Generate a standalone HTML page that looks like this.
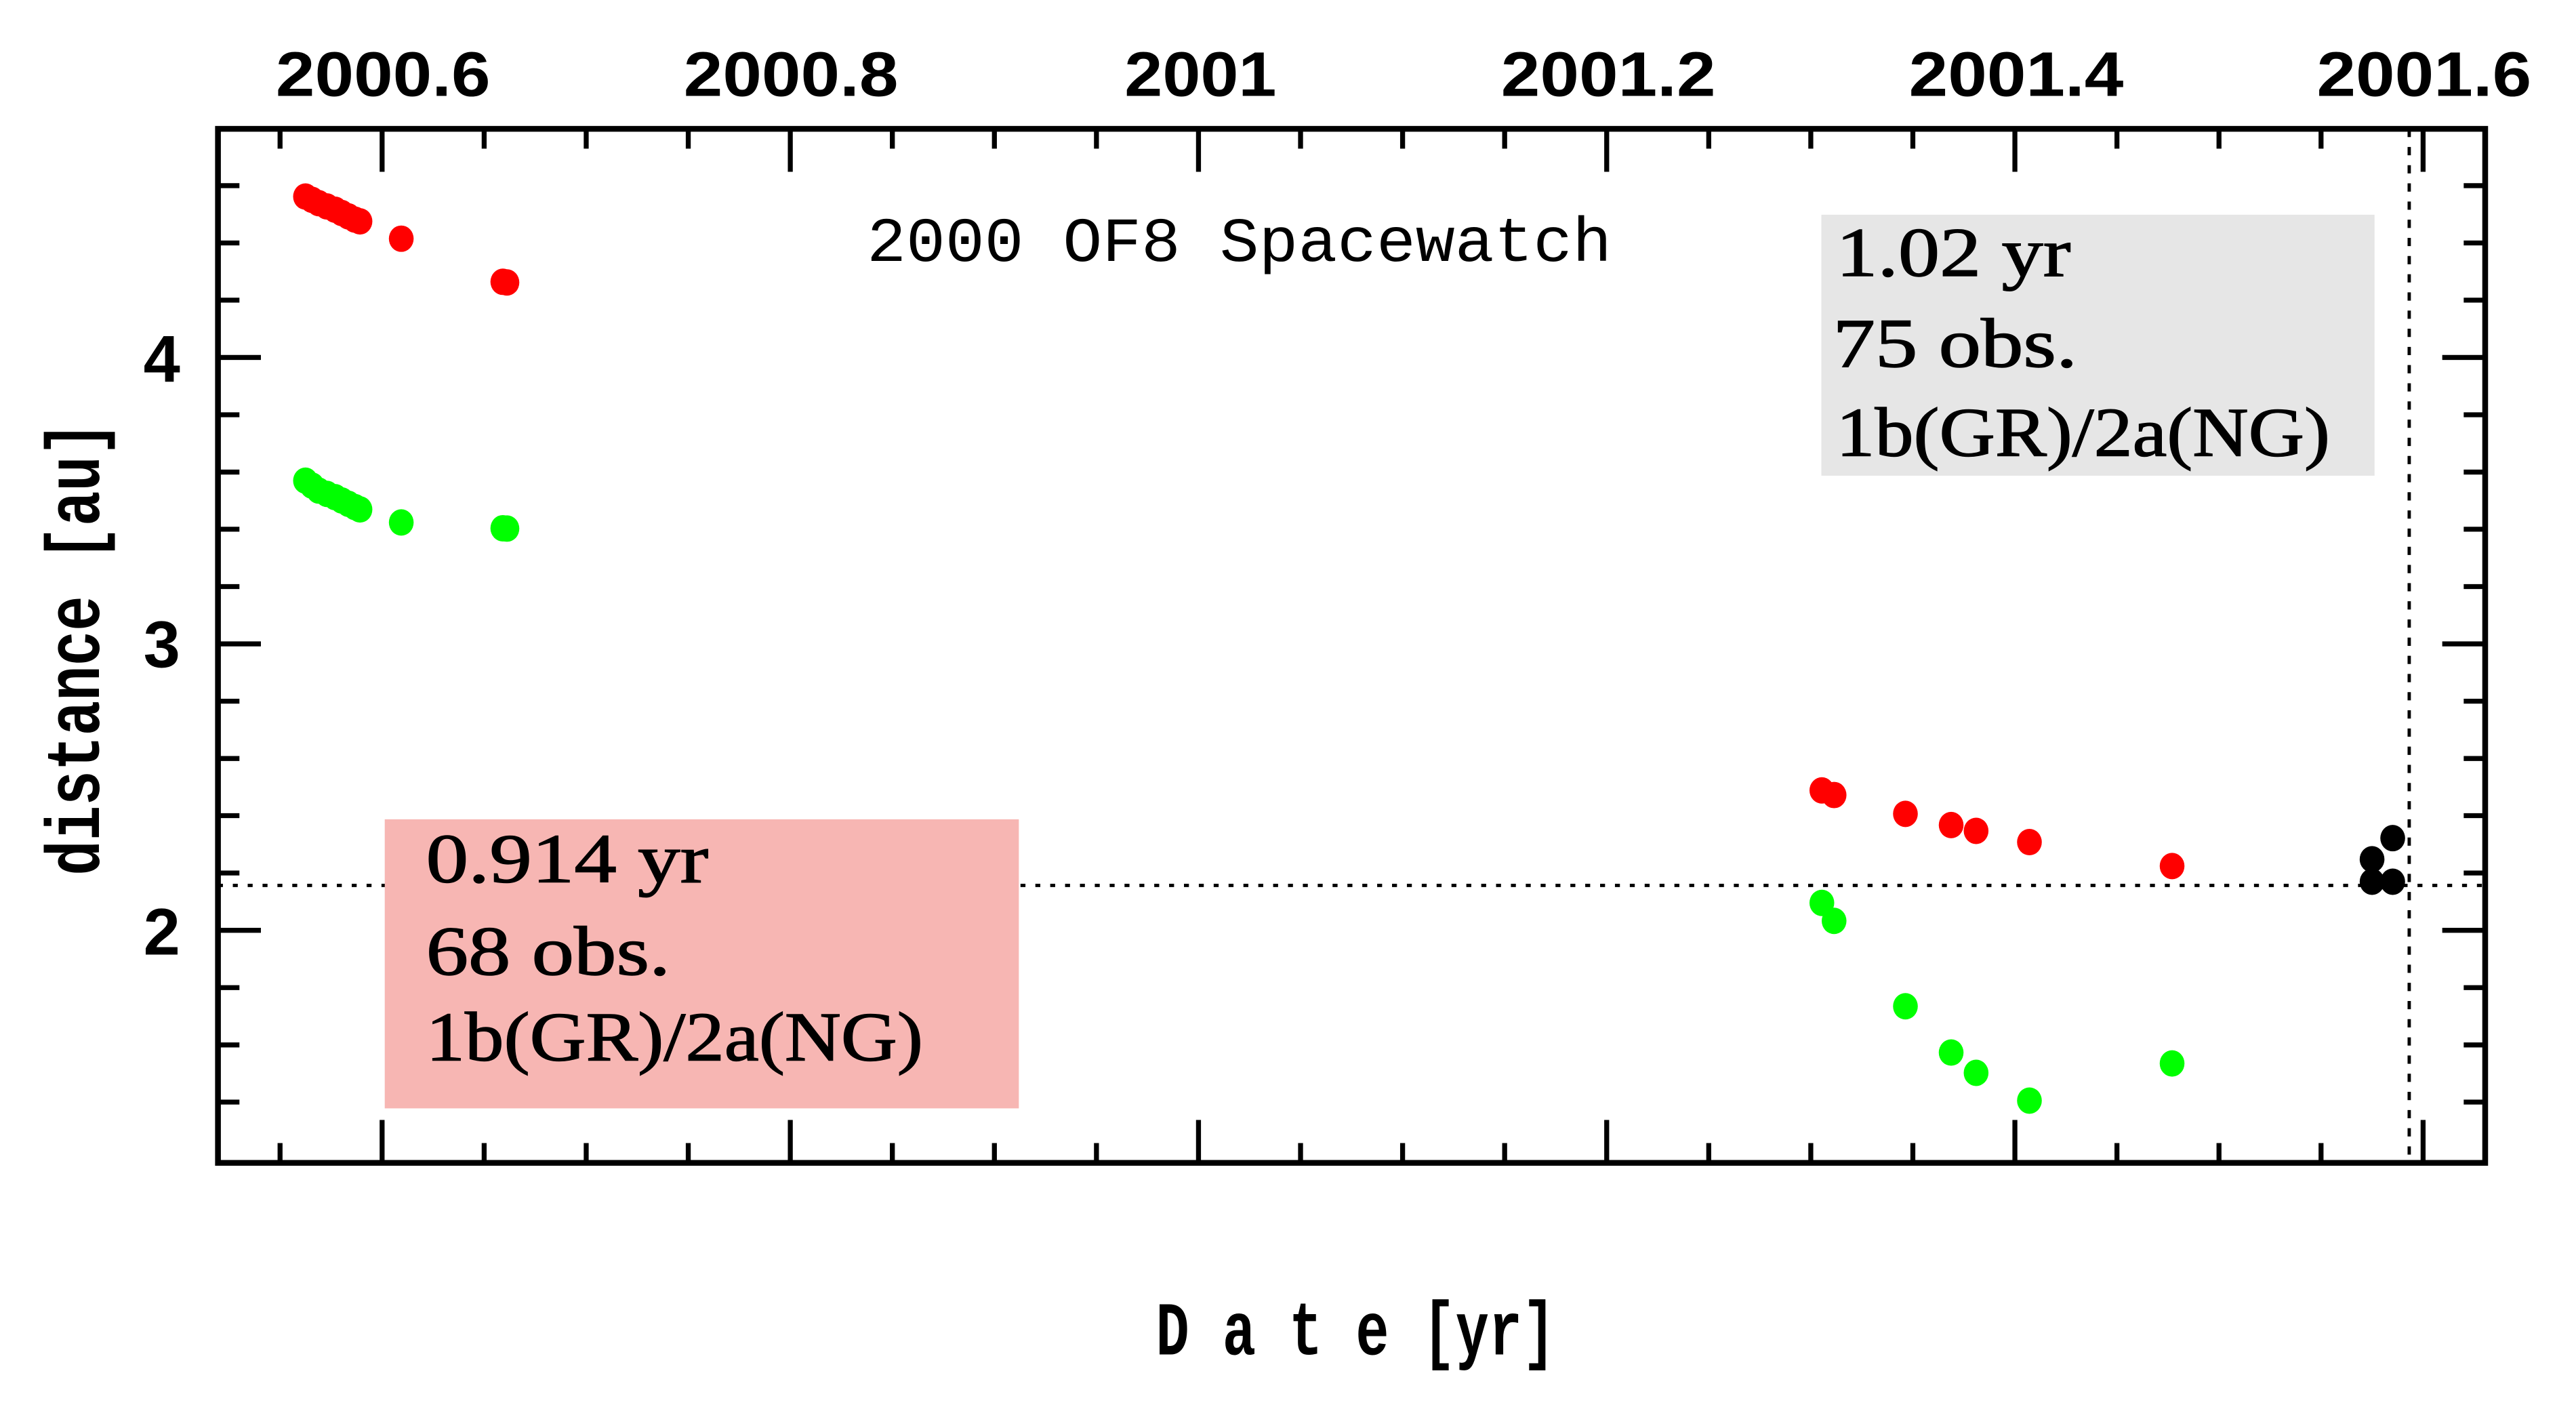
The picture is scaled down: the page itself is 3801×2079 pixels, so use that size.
<!DOCTYPE html>
<html><head><meta charset="utf-8"><style>
html,body{margin:0;padding:0;background:#fff;}
svg{display:block;}
</style></head><body>
<svg width="3801" height="2079" viewBox="0 0 1560 853" preserveAspectRatio="none" xmlns="http://www.w3.org/2000/svg">
<rect x="0" y="0" width="1560" height="853" fill="#fff"/>
<rect x="1103" y="130" width="335" height="158" fill="#e6e6e6"/>
<line x1="132" y1="536" x2="1505" y2="536" stroke="#000" stroke-width="2" stroke-dasharray="3,6"/>
<line x1="1459" y1="78" x2="1459" y2="704" stroke="#000" stroke-width="2" stroke-dasharray="5,6"/>
<rect x="233" y="496" width="384" height="175" fill="#f7b6b3"/>
<rect x="132" y="78" width="1373" height="626" fill="none" stroke="#000" stroke-width="3.5"/>
<g stroke="#000" stroke-width="3">
<line x1="231.4" y1="78" x2="231.4" y2="104"/><line x1="231.4" y1="704" x2="231.4" y2="678"/>
<line x1="478.6" y1="78" x2="478.6" y2="104"/><line x1="478.6" y1="704" x2="478.6" y2="678"/>
<line x1="725.8" y1="78" x2="725.8" y2="104"/><line x1="725.8" y1="704" x2="725.8" y2="678"/>
<line x1="973" y1="78" x2="973" y2="104"/><line x1="973" y1="704" x2="973" y2="678"/>
<line x1="1220.2" y1="78" x2="1220.2" y2="104"/><line x1="1220.2" y1="704" x2="1220.2" y2="678"/>
<line x1="1467.4" y1="78" x2="1467.4" y2="104"/><line x1="1467.4" y1="704" x2="1467.4" y2="678"/>
<line x1="169.6" y1="78" x2="169.6" y2="90"/><line x1="169.6" y1="704" x2="169.6" y2="692"/>
<line x1="293.2" y1="78" x2="293.2" y2="90"/><line x1="293.2" y1="704" x2="293.2" y2="692"/>
<line x1="355" y1="78" x2="355" y2="90"/><line x1="355" y1="704" x2="355" y2="692"/>
<line x1="416.8" y1="78" x2="416.8" y2="90"/><line x1="416.8" y1="704" x2="416.8" y2="692"/>
<line x1="540.4" y1="78" x2="540.4" y2="90"/><line x1="540.4" y1="704" x2="540.4" y2="692"/>
<line x1="602.2" y1="78" x2="602.2" y2="90"/><line x1="602.2" y1="704" x2="602.2" y2="692"/>
<line x1="664" y1="78" x2="664" y2="90"/><line x1="664" y1="704" x2="664" y2="692"/>
<line x1="787.6" y1="78" x2="787.6" y2="90"/><line x1="787.6" y1="704" x2="787.6" y2="692"/>
<line x1="849.4" y1="78" x2="849.4" y2="90"/><line x1="849.4" y1="704" x2="849.4" y2="692"/>
<line x1="911.2" y1="78" x2="911.2" y2="90"/><line x1="911.2" y1="704" x2="911.2" y2="692"/>
<line x1="1034.8" y1="78" x2="1034.8" y2="90"/><line x1="1034.8" y1="704" x2="1034.8" y2="692"/>
<line x1="1096.6" y1="78" x2="1096.6" y2="90"/><line x1="1096.6" y1="704" x2="1096.6" y2="692"/>
<line x1="1158.4" y1="78" x2="1158.4" y2="90"/><line x1="1158.4" y1="704" x2="1158.4" y2="692"/>
<line x1="1282" y1="78" x2="1282" y2="90"/><line x1="1282" y1="704" x2="1282" y2="692"/>
<line x1="1343.8" y1="78" x2="1343.8" y2="90"/><line x1="1343.8" y1="704" x2="1343.8" y2="692"/>
<line x1="1405.6" y1="78" x2="1405.6" y2="90"/><line x1="1405.6" y1="704" x2="1405.6" y2="692"/>
<line x1="132" y1="216.4" x2="158" y2="216.4"/><line x1="1505" y1="216.4" x2="1479" y2="216.4"/>
<line x1="132" y1="389.8" x2="158" y2="389.8"/><line x1="1505" y1="389.8" x2="1479" y2="389.8"/>
<line x1="132" y1="563.2" x2="158" y2="563.2"/><line x1="1505" y1="563.2" x2="1479" y2="563.2"/>
<line x1="132" y1="112.4" x2="145" y2="112.4"/><line x1="1505" y1="112.4" x2="1492" y2="112.4"/>
<line x1="132" y1="147.1" x2="145" y2="147.1"/><line x1="1505" y1="147.1" x2="1492" y2="147.1"/>
<line x1="132" y1="181.7" x2="145" y2="181.7"/><line x1="1505" y1="181.7" x2="1492" y2="181.7"/>
<line x1="132" y1="251.1" x2="145" y2="251.1"/><line x1="1505" y1="251.1" x2="1492" y2="251.1"/>
<line x1="132" y1="285.8" x2="145" y2="285.8"/><line x1="1505" y1="285.8" x2="1492" y2="285.8"/>
<line x1="132" y1="320.4" x2="145" y2="320.4"/><line x1="1505" y1="320.4" x2="1492" y2="320.4"/>
<line x1="132" y1="355.1" x2="145" y2="355.1"/><line x1="1505" y1="355.1" x2="1492" y2="355.1"/>
<line x1="132" y1="424.5" x2="145" y2="424.5"/><line x1="1505" y1="424.5" x2="1492" y2="424.5"/>
<line x1="132" y1="459.2" x2="145" y2="459.2"/><line x1="1505" y1="459.2" x2="1492" y2="459.2"/>
<line x1="132" y1="493.8" x2="145" y2="493.8"/><line x1="1505" y1="493.8" x2="1492" y2="493.8"/>
<line x1="132" y1="528.5" x2="145" y2="528.5"/><line x1="1505" y1="528.5" x2="1492" y2="528.5"/>
<line x1="132" y1="597.9" x2="145" y2="597.9"/><line x1="1505" y1="597.9" x2="1492" y2="597.9"/>
<line x1="132" y1="632.6" x2="145" y2="632.6"/><line x1="1505" y1="632.6" x2="1492" y2="632.6"/>
<line x1="132" y1="667.2" x2="145" y2="667.2"/><line x1="1505" y1="667.2" x2="1492" y2="667.2"/>
</g>
<g font-family="Liberation Sans, sans-serif" font-weight="bold" font-size="38" fill="#000" text-anchor="middle">
<text x="232" y="58" textLength="130" lengthAdjust="spacingAndGlyphs">2000.6</text>
<text x="479" y="58" textLength="130" lengthAdjust="spacingAndGlyphs">2000.8</text>
<text x="727" y="58" textLength="92" lengthAdjust="spacingAndGlyphs">2001</text>
<text x="974" y="58" textLength="130" lengthAdjust="spacingAndGlyphs">2001.2</text>
<text x="1221" y="58" textLength="130" lengthAdjust="spacingAndGlyphs">2001.4</text>
<text x="1468" y="58" textLength="130" lengthAdjust="spacingAndGlyphs">2001.6</text>
<text x="98" y="231" font-size="40">4</text>
<text x="98" y="404" font-size="40">3</text>
<text x="98" y="578" font-size="40">2</text>
</g>
<text x="525" y="158" font-family="Liberation Mono, monospace" font-size="38" textLength="451" lengthAdjust="spacingAndGlyphs">2000 OF8 Spacewatch</text>
<g font-family="Liberation Serif, serif" font-size="42" fill="#000" stroke="#000" stroke-width="0.6">
<text x="1112" y="167" textLength="142" lengthAdjust="spacingAndGlyphs">1.02 yr</text>
<text x="1110" y="222" textLength="148" lengthAdjust="spacingAndGlyphs">75 obs.</text>
<text x="1112" y="276" textLength="299" lengthAdjust="spacingAndGlyphs">1b(GR)/2a(NG)</text>
<text x="258" y="534" textLength="171" lengthAdjust="spacingAndGlyphs">0.914 yr</text>
<text x="258" y="590" textLength="148" lengthAdjust="spacingAndGlyphs">68 obs.</text>
<text x="258" y="642" textLength="301" lengthAdjust="spacingAndGlyphs">1b(GR)/2a(NG)</text>
</g>
<text x="700" y="820" font-family="Liberation Mono, monospace" font-weight="bold" font-size="46" textLength="242" lengthAdjust="spacingAndGlyphs">D a t e [yr]</text>
<text transform="translate(60,530) rotate(-90)" x="0" y="0" font-family="Liberation Mono, monospace" font-weight="bold" font-size="46" textLength="275" lengthAdjust="spacingAndGlyphs">distance [au]</text>
<g fill="#ff0000">
<ellipse cx="185" cy="119" rx="7.5" ry="8"/><ellipse cx="189" cy="121" rx="7.5" ry="8"/><ellipse cx="193" cy="123" rx="7.5" ry="8"/>
<ellipse cx="198" cy="125" rx="7.5" ry="8"/><ellipse cx="203" cy="127" rx="7.5" ry="8"/><ellipse cx="207" cy="129" rx="7.5" ry="8"/>
<ellipse cx="211" cy="131" rx="7.5" ry="8"/><ellipse cx="215" cy="133" rx="7.5" ry="8"/><ellipse cx="218" cy="134" rx="7.5" ry="8"/>
<ellipse cx="243" cy="144.5" rx="7.5" ry="8"/><ellipse cx="304.5" cy="170.6" rx="7.5" ry="8"/><ellipse cx="307" cy="171" rx="7.5" ry="8"/>
<ellipse cx="1103.3" cy="478.5" rx="7.5" ry="8"/><ellipse cx="1110.7" cy="481.3" rx="7.5" ry="8"/><ellipse cx="1153.9" cy="492.7" rx="7.5" ry="8"/>
<ellipse cx="1181.6" cy="499.5" rx="7.5" ry="8"/><ellipse cx="1196.7" cy="503" rx="7.5" ry="8"/><ellipse cx="1229" cy="509.8" rx="7.5" ry="8"/>
<ellipse cx="1315.4" cy="524.3" rx="7.5" ry="8"/>
</g>
<g fill="#00ff00">
<ellipse cx="185" cy="291" rx="7.5" ry="8"/><ellipse cx="189" cy="294" rx="7.5" ry="8"/><ellipse cx="193" cy="297" rx="7.5" ry="8"/>
<ellipse cx="198" cy="299" rx="7.5" ry="8"/><ellipse cx="203" cy="301" rx="7.5" ry="8"/><ellipse cx="207" cy="303" rx="7.5" ry="8"/>
<ellipse cx="211" cy="305" rx="7.5" ry="8"/><ellipse cx="215" cy="307" rx="7.5" ry="8"/><ellipse cx="218" cy="308.4" rx="7.5" ry="8"/>
<ellipse cx="243" cy="316.3" rx="7.5" ry="8"/><ellipse cx="304.5" cy="319.8" rx="7.5" ry="8"/><ellipse cx="307" cy="320" rx="7.5" ry="8"/>
<ellipse cx="1103.3" cy="546.6" rx="7.5" ry="8"/><ellipse cx="1110.7" cy="557.5" rx="7.5" ry="8"/><ellipse cx="1153.9" cy="609.2" rx="7.5" ry="8"/>
<ellipse cx="1181.6" cy="637.2" rx="7.5" ry="8"/><ellipse cx="1196.7" cy="649.5" rx="7.5" ry="8"/><ellipse cx="1229" cy="666.3" rx="7.5" ry="8"/>
<ellipse cx="1315.4" cy="643.8" rx="7.5" ry="8"/>
</g>
<g fill="#000">
<ellipse cx="1449" cy="507.4" rx="7.5" ry="8"/><ellipse cx="1436.5" cy="520.2" rx="7.5" ry="8"/>
<ellipse cx="1436.5" cy="533.8" rx="7.5" ry="8"/><ellipse cx="1449" cy="533.8" rx="7.5" ry="8"/>
</g>
</svg>
</body></html>
